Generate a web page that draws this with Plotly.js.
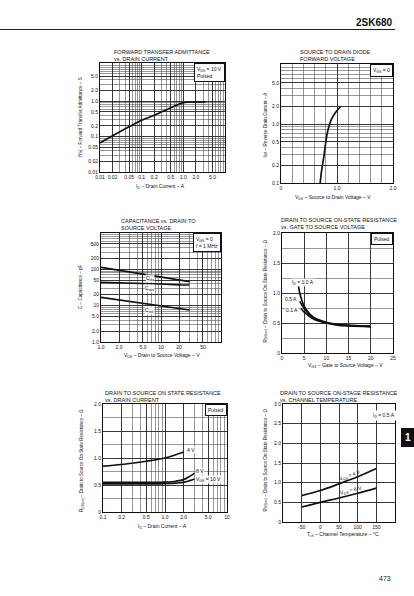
<!DOCTYPE html>
<html><head><meta charset="utf-8">
<script src="https://cdn.plot.ly/plotly-3.0.1.min.js"></script>
<style>html,body{margin:0;padding:0;background:#fff}#chart{width:414px;height:596px}</style>
</head><body><div id="chart"></div>
<script>
// ---- DATA ----
// 1: Forward transfer admittance vs drain current
const yfsId = [0.01, 0.02, 0.05, 0.1, 0.2, 0.5, 1.0, 2.0, 3.4];
const yfsVal = [0.066, 0.105, 0.19, 0.29, 0.40, 0.65, 0.91, 0.95, 0.95];
// 2: Source to drain diode forward voltage
const sdV = [0.70, 0.72, 0.74, 0.77, 0.80, 0.84, 0.90, 0.98, 1.07];
const sdI = [0.1, 0.15, 0.2, 0.3, 0.5, 0.8, 1.2, 1.6, 2.0];
// 3: Capacitance vs VDS
const capV = [1, 2, 5, 10, 20, 30];
const ciss = [114, 95, 74, 62, 51, 46];
const coss = [44, 43, 41, 39.5, 37.5, 37];
const crss = [17, 14.4, 11.6, 9.8, 8.3, 7.6];
// 4: RDS(on) vs VGS
const vgs10 = [3.7, 4, 4.5, 5, 6, 7, 8, 10, 12, 15, 20];
const ron10 = [1.12, 1.0, 0.87, 0.78, 0.67, 0.6, 0.56, 0.51, 0.48, 0.46, 0.45];
const vgs05 = [4.0, 4.5, 5, 6, 7, 8, 10, 12, 15, 20];
const ron05 = [0.86, 0.8, 0.74, 0.65, 0.59, 0.55, 0.5, 0.48, 0.46, 0.44];
const vgs01 = [4.3, 4.5, 5, 6, 7, 8, 10, 12, 15, 20];
const ron01 = [0.74, 0.72, 0.68, 0.62, 0.57, 0.54, 0.5, 0.47, 0.45, 0.44];
// 5: RDS(on) vs ID
const id4 = [0.1, 0.2, 0.5, 1.0, 2.0];
const r4 = [0.85, 0.88, 0.94, 1.0, 1.11];
const id8 = [0.1, 0.2, 0.5, 1.0, 1.5, 2.0, 2.5, 3.0];
const r8 = [0.55, 0.55, 0.55, 0.555, 0.57, 0.6, 0.66, 0.72];
const id10 = [0.1, 0.2, 0.5, 1.0, 1.5, 2.0, 2.5, 3.0];
const r10 = [0.52, 0.52, 0.52, 0.525, 0.535, 0.55, 0.58, 0.61];
// 6: RDS(on) vs channel temperature
const tch = [-50, 0, 50, 100, 150];
const rt4 = [0.67, 0.80, 0.97, 1.15, 1.36];
const rt8 = [0.38, 0.50, 0.61, 0.73, 0.86];
// tick labels
const lab1x = [0.01, 0.02, 0.05, 0.1, 0.2, 0.5, 1, 2, 5];
const txt1x = ['0.01','0.02','0.05','0.1','0.2','0.5','1.0','2.0','5.0'];
const lab1y = [0.01, 0.02, 0.05, 0.1, 0.2, 0.5, 1, 2, 5];
const txt1y = ['0.01','0.02','0.05','0.1','0.2','0.5','1.0','2.0','5.0'];
const lab2x = [0, 1, 2];
const txt2x = ['0', '1.0', '2.0'];
const lab2y = [0.1, 0.2, 0.5, 1, 2, 5];
const txt2y = ['0.1','0.2','0.5','1.0','2.0','5.0'];
const lab3x = [1, 2, 5, 10, 20, 50];
const txt3x = ['1.0','2.0','5.0','10','20','50'];
const lab3y = [1, 2, 5, 10, 20, 50, 100, 200, 500];
const txt3y = ['1.0','2.0','5.0','10','20','50','100','200','500'];
const lab4x = [0, 5, 10, 15, 20, 25];
const txt4x = ['0', '5', '10', '15', '20', '25'];
const labR2 = [0, 0.5, 1, 1.5, 2];
const txtR2 = ['0', '0.5', '1.0', '1.5', '2.0'];
const lab5x = [0.1, 0.2, 0.5, 1, 2, 5, 10];
const txt5x = ['0.1','0.2','0.5','1.0','2.0','5.0','10'];
const lab6x = [-50, 0, 50, 100, 150];
const txt6x = ['-50', '0', '50', '100', '150'];
const lab6y = [0, 0.5, 1, 1.5, 2, 2.5, 3];
const txt6y = ['0', '0.5', '1.0', '1.5', '2.0', '2.5', '3.0'];

// ---- HELPERS ----
const F = '"Liberation Sans", Arial, sans-serif';
const W = 414, H = 596;
function logGrid(e0, e1) {
  const v = [];
  for (let e = e0; e < e1; e++) for (let d = 1; d <= 9; d++) v.push(d * Math.pow(10, e));
  v.push(Math.pow(10, e1));
  return v;
}
function linGrid(a, b, step) {
  const v = [], n = Math.round((b - a) / step);
  for (let i = 0; i <= n; i++) v.push(+(a + i * step).toFixed(6));
  return v;
}
function ax(l, r, isX, anchor, type, range, labs, txts, grid) {
  return {
    domain: isX ? [l / W, r / W] : [1 - r / H, 1 - l / H],
    anchor: anchor, type: type, range: range,
    showline: true, mirror: true, linecolor: '#111', linewidth: 1,
    ticks: '', showgrid: true, gridcolor: '#222', gridwidth: 0.8, zeroline: false,
    tickmode: 'array', tickvals: labs, ticktext: txts,
    tickfont: {size: 5, color: '#111', family: F}, fixedrange: true,
    minor: {tickmode: 'array', tickvals: grid, showgrid: true, gridcolor: '#444', gridwidth: 0.55, ticks: ''}
  };
}
const ln = {color: '#111', width: 1.7};
const sp = Object.assign({shape: 'spline'}, ln);
const traces = [
  {x: yfsId, y: yfsVal, xaxis: 'x', yaxis: 'y', mode: 'lines', line: sp},
  {x: sdV, y: sdI, xaxis: 'x2', yaxis: 'y2', mode: 'lines', line: sp},
  {x: capV, y: ciss, xaxis: 'x3', yaxis: 'y3', mode: 'lines', line: ln},
  {x: capV, y: coss, xaxis: 'x3', yaxis: 'y3', mode: 'lines', line: ln},
  {x: capV, y: crss, xaxis: 'x3', yaxis: 'y3', mode: 'lines', line: ln},
  {x: vgs10, y: ron10, xaxis: 'x4', yaxis: 'y4', mode: 'lines', line: sp},
  {x: vgs05, y: ron05, xaxis: 'x4', yaxis: 'y4', mode: 'lines', line: sp},
  {x: vgs01, y: ron01, xaxis: 'x4', yaxis: 'y4', mode: 'lines', line: sp},
  {x: id4, y: r4, xaxis: 'x5', yaxis: 'y5', mode: 'lines', line: sp},
  {x: id8, y: r8, xaxis: 'x5', yaxis: 'y5', mode: 'lines', line: sp},
  {x: id10, y: r10, xaxis: 'x5', yaxis: 'y5', mode: 'lines', line: sp},
  {x: tch, y: rt4, xaxis: 'x6', yaxis: 'y6', mode: 'lines', line: sp},
  {x: tch, y: rt8, xaxis: 'x6', yaxis: 'y6', mode: 'lines', line: sp}
];

const layout = {
  width: W, height: H, margin: {l: 0, r: 0, t: 0, b: 0},
  paper_bgcolor: '#fff', plot_bgcolor: '#fff', showlegend: false,
  font: {family: F, color: '#111', size: 5},
  xaxis: ax(100, 225, true, 'y', 'log', [-2, 1], lab1x, txt1x, logGrid(-2, 1)),
  yaxis: ax(63, 172, false, 'x', 'log', [-2, 1.08], lab1y, txt1y, logGrid(-2, 1)),
  xaxis2: ax(281, 393, true, 'y2', 'linear', [0, 2], lab2x, txt2x, linGrid(0, 2, 0.2)),
  yaxis2: ax(64, 183, false, 'x2', 'log', [-1, 1.017], lab2y, txt2y, logGrid(-1, 1)),
  xaxis3: ax(101, 221, true, 'y3', 'log', [0, 2], lab3x, txt3x, logGrid(0, 2)),
  yaxis3: ax(233, 342, false, 'x3', 'log', [0, 3], lab3y, txt3y, logGrid(0, 3)),
  xaxis4: ax(282, 393, true, 'y4', 'linear', [0, 25], lab4x, txt4x, linGrid(0, 25, 5)),
  yaxis4: ax(233, 353, false, 'x4', 'linear', [0, 2], labR2, txtR2, linGrid(0, 2, 0.25)),
  xaxis5: ax(103, 227, true, 'y5', 'log', [-1, 1], lab5x, txt5x, logGrid(-1, 1)),
  yaxis5: ax(404, 512, false, 'x5', 'linear', [0, 2], labR2, txtR2, linGrid(0, 2, 0.25)),
  xaxis6: ax(283, 395, true, 'y6', 'linear', [-100, 200], lab6x, txt6x, linGrid(-100, 200, 50)),
  yaxis6: ax(404, 522, false, 'x6', 'linear', [0, 3], lab6y, txt6y, linGrid(0, 3, 0.5)),
  annotations: [], shapes: []
};

const A = layout.annotations;
function pt(text, px, py, o) {
  A.push(Object.assign({text: text, xref: 'paper', yref: 'paper', x: px / W, y: 1 - py / H,
    xanchor: 'center', yanchor: 'middle',
    showarrow: false, font: {size: 5, family: F, color: '#111'}}, o || {}));
}
// page header / footer
pt('<b>2SK680</b>', 395, 22, {xanchor: 'right', font: {size: 10, family: F, color: '#111'}});
layout.shapes.push({type: 'line', xref: 'paper', yref: 'paper', x0: 0, x1: 395 / W, y0: 1 - 29.5 / H, y1: 1 - 29.5 / H, line: {color: '#222', width: 1}});
layout.shapes.push({type: 'rect', xref: 'paper', yref: 'paper', x0: 401 / W, x1: 1, y0: 1 - 447 / H, y1: 1 - 428 / H, fillcolor: '#111', line: {width: 0}});
pt('<b>1</b>', 407.5, 437.5, {font: {size: 10, family: F, color: '#fff'}});
pt('473', 385, 578, {font: {size: 7, family: F, color: '#222'}});

// chart titles
const tf = {size: 5.5, family: F, color: '#111'};
pt('FORWARD TRANSFER ADMITTANCE<br>vs. DRAIN CURRENT', 112, 55.5, {xanchor: 'left', align: 'left', font: tf});
pt('SOURCE TO DRAIN DIODE<br>FORWARD VOLTAGE', 298, 55, {xanchor: 'left', align: 'left', font: tf});
pt('CAPACITANCE vs. DRAIN TO<br>SOURCE VOLTAGE', 119, 225, {xanchor: 'left', align: 'left', font: tf});
pt('DRAIN TO SOURCE ON-STATE RESISTANCE<br>vs. GATE TO SOURCE VOLTAGE', 279, 223.5, {xanchor: 'left', align: 'left', font: tf});
pt('DRAIN TO SOURCE ON STATE RESISTANCE<br>vs. DRAIN CURRENT', 103, 396.5, {xanchor: 'left', align: 'left', font: tf});
pt('DRAIN TO SOURCE ON-STAGE RESISTANCE<br>vs. CHANNEL TEMPERATURE', 278, 396.5, {xanchor: 'left', align: 'left', font: tf});

// axis titles
const af = {size: 5, family: F, color: '#111'};
pt('I<sub>D</sub> – Drain Current – A', 160, 186, {font: af});
pt('V<sub>DS</sub> – Source to Drain Voltage – V', 333, 197, {font: af});
pt('V<sub>DS</sub> – Drain to Source Voltage – V', 162, 355, {font: af});
pt('V<sub>GS</sub> – Gate to Source Voltage – V', 345, 365, {font: af});
pt('I<sub>D</sub> – Drain Current – A', 162, 526, {font: af});
pt('T<sub>ch</sub> – Channel Temperature – °C', 343, 534.5, {font: af});
const yf = {size: 4.6, family: F, color: '#111'};
pt('|Y<sub>fs</sub>| – Forward Transfer Admittance – S', 80.5, 118, {textangle: -90, font: yf});
pt('I<sub>DR</sub> – Reverse Drain Current – A', 265.5, 125, {textangle: -90, font: yf});
pt('C – Capacitance – pF', 81, 287, {textangle: -90, font: yf});
pt('R<sub>DS(on)</sub> – Drain to Source On State Resistance – Ω', 265.5, 291, {textangle: -90, font: yf});
pt('R<sub>DS(on)</sub> – Drain to Source On State Resistance – Ω', 82, 461, {textangle: -90, font: yf});
pt('R<sub>DS(on)</sub> – Drain to Source On State Resistance – Ω', 265.5, 460, {textangle: -90, font: yf});

// condition boxes
function box(text, xa, ya, bordered) {
  A.push({text: text, xref: xa + ' domain', yref: ya + ' domain', x: 1, y: 1, xanchor: 'right', yanchor: 'top',
    showarrow: false, align: 'left', bgcolor: '#fff', bordercolor: bordered ? '#111' : 'rgba(0,0,0,0)', borderwidth: 1, borderpad: 2,
    font: {size: 5, family: F, color: '#111'}});
}
box('V<sub>DS</sub> = 10 V<br>Pulsed', 'x', 'y', true);
box('V<sub>GS</sub> = 0', 'x2', 'y2', true);
box('V<sub>GS</sub> = 0<br>f = 1 MHz', 'x3', 'y3', true);
box('Pulsed', 'x4', 'y4', true);
box('Pulsed', 'x5', 'y5', true);
A.push({text: 'I<sub>D</sub> = 0.5 A', xref: 'x6', yref: 'y6', x: 170, y: 2.72, xanchor: 'center', yanchor: 'middle', showarrow: false, bgcolor: '#fff', font: {size: 5, family: F, color: '#111'}});

// curve labels
function cl(text, xa, ya, x, y, o) {
  A.push(Object.assign({text: text, xref: xa, yref: ya, x: x, y: y, xanchor: 'center', yanchor: 'middle', showarrow: false,
    bgcolor: 'rgba(255,255,255,0.85)', borderpad: 0,
    font: {size: 5, family: F, color: '#111'}}, o || {}));
}
cl('C<sub>iss</sub>', 'x3', 'y3', Math.log10(6.5), Math.log10(55));
cl('C<sub>oss</sub>', 'x3', 'y3', Math.log10(6.5), Math.log10(30));
cl('C<sub>rss</sub>', 'x3', 'y3', Math.log10(6.5), Math.log10(7.3));
cl('I<sub>D</sub> = 1.0 A', 'x4', 'y4', 4.7, 1.18);
cl('0.5 A', 'x4', 'y4', 2.1, 0.9);
cl('0.1 A', 'x4', 'y4', 2.3, 0.71);
cl('4 V', 'x5', 'y5', Math.log10(2.2), 1.14, {xanchor: 'left'});
cl('8 V', 'x5', 'y5', Math.log10(3.1), 0.76, {xanchor: 'left'});
cl('V<sub>GS</sub> = 10 V', 'x5', 'y5', Math.log10(3.1), 0.6, {xanchor: 'left'});
cl('V<sub>GS</sub> = 4 V', 'x6', 'y6', 80, 1.17, {textangle: -20, bgcolor: 'rgba(0,0,0,0)'});
cl('V<sub>GS</sub> = 8 V', 'x6', 'y6', 82, 0.8, {textangle: -13, bgcolor: 'rgba(0,0,0,0)'});

Plotly.newPlot('chart', traces, layout, {staticPlot: true, displayModeBar: false});
</script></body></html>
